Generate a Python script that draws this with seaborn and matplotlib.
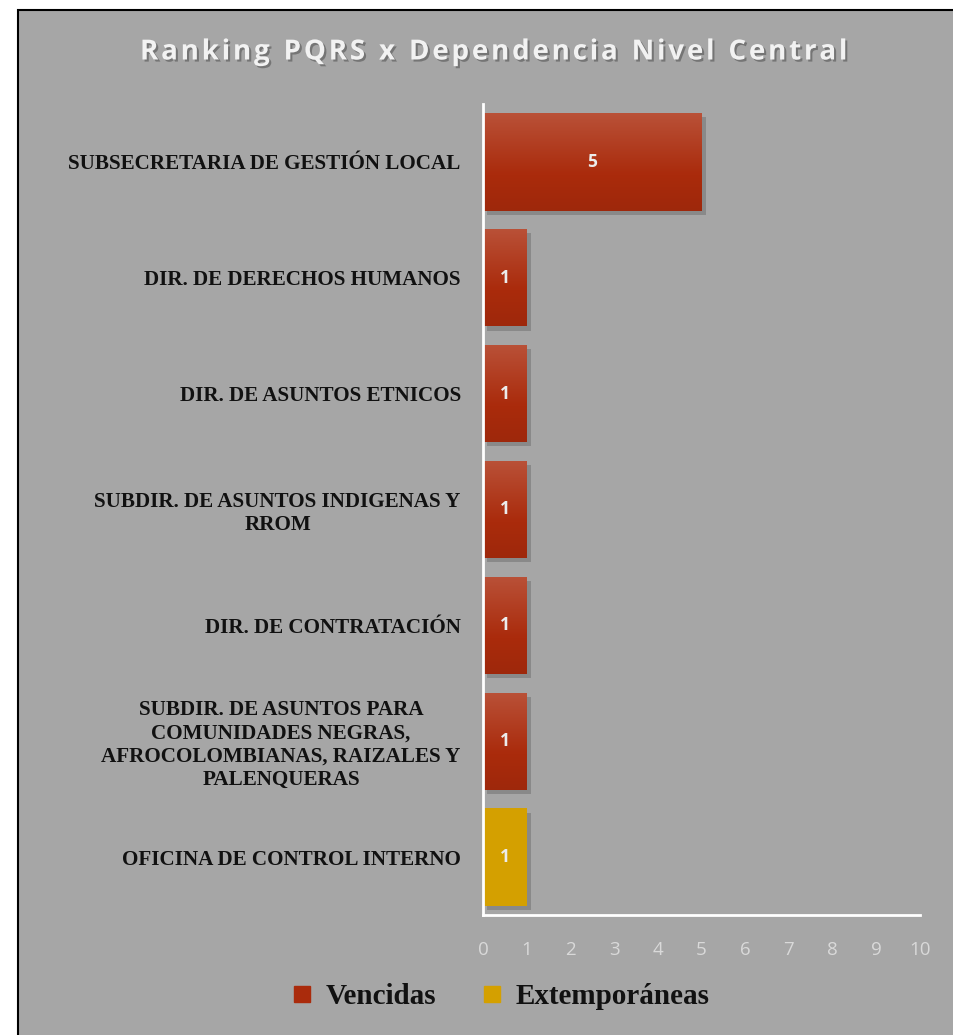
import matplotlib
matplotlib.use("Agg")
import matplotlib.pyplot as plt
import matplotlib.patheffects as pe
from matplotlib.patches import Rectangle
from matplotlib.lines import Line2D
from matplotlib.colors import to_rgb, to_hex
import numpy as np
import seaborn as sns
import pandas as pd

categories = [
    "SUBSECRETARIA DE GESTIÓN LOCAL",
    "DIR. DE DERECHOS HUMANOS",
    "DIR. DE ASUNTOS ETNICOS",
    "SUBDIR. DE ASUNTOS INDIGENAS Y\nRROM",
    "DIR. DE CONTRATACIÓN",
    "SUBDIR. DE ASUNTOS PARA\nCOMUNIDADES NEGRAS,\nAFROCOLOMBIANAS, RAIZALES Y\nPALENQUERAS",
    "OFICINA DE CONTROL INTERNO",
]
values = [5, 1, 1, 1, 1, 1, 1]
series = ["Vencidas", "Vencidas", "Vencidas", "Vencidas", "Vencidas", "Vencidas", "Extemporáneas"]
series_order = ["Vencidas", "Extemporáneas"]
colors = {"Vencidas": "#aa2b0c", "Extemporáneas": "#d4a000"}
xticks = list(range(0, 11))

df = pd.DataFrame({"cat": categories, "val": values, "serie": series})

sns.set_theme(style="white")
plt.rcParams["font.family"] = ["Liberation Serif", "DejaVu Serif"]

fig = plt.figure(figsize=(9.54, 10.35), dpi=100, facecolor="white")
bg = Rectangle((18 / 954, -0.01), 1.0, 1 - 10 / 1035 + 0.01, transform=fig.transFigure,
               facecolor="#a6a6a6", edgecolor="black", linewidth=1.5, zorder=-10)
fig.patches.append(bg)

ax = fig.add_axes([483 / 954, 1 - 915 / 1035, (920 - 483) / 954, (915 - 104) / 1035])
ax.set_facecolor("none")
ax.set_zorder(5)

sns.barplot(data=df, y="cat", x="val", hue="serie", hue_order=series_order,
            palette=colors, dodge=False, width=0.84, orient="h", ax=ax,
            legend=False, saturation=1, linewidth=0, edgecolor="none")

ax.set_xlim(0, 10)
ylim = ax.get_ylim()
red = np.array(to_rgb(colors["Vencidas"]))
for bar in list(ax.patches):
    w = bar.get_width()
    if w <= 0:
        continue
    bar.set_linewidth(0)
    bar.set_path_effects([pe.SimplePatchShadow(offset=(3, -3), alpha=0.22, shadow_rgbFace="#222222"),
                          pe.Normal()])
    base = np.array(to_rgb(bar.get_facecolor()))
    y0, h = bar.get_y(), bar.get_height()
    if np.allclose(base, red, atol=0.02):
        # vertical gradient: lighter at top, deeper at bottom
        top = base + (1 - base) * 0.18
        bot = base * 0.93
        t = np.clip(np.linspace(0, 1, 64)[:, None] * 1.6, 0, 1)
        grad = top[None, :] * (1 - t) + base[None, :] * t
        s = np.linspace(0, 1, 24)[:, None]
        grad[40:] = base[None, :] * (1 - s) + bot[None, :] * s
        im = ax.imshow(grad[:, None, :], extent=(0, w, y0 + h, y0), aspect="auto",
                       origin="upper", zorder=bar.get_zorder() + 0.1, interpolation="bilinear")
        im.set_clip_path(bar)
    ax.text(w / 2, y0 + h / 2, f"{int(w)}",
            ha="center", va="center", color="#ececec", fontsize=12.5,
            fontweight="bold", family=["Open Sans", "DejaVu Sans"], zorder=10)
ax.set_ylim(ylim)
ax.set_xlim(0, 10)

ax.set_xticks(xticks)
ax.set_xticklabels([str(t) for t in xticks], color="#d9d9d9", fontsize=13.5,
                   family=["Open Sans", "DejaVu Sans"])
ax.tick_params(axis="x", length=0, pad=19)
ax.tick_params(axis="y", length=0, pad=16)
for lab in ax.get_yticklabels():
    lab.set_fontweight("bold")
    lab.set_fontsize(15.2)
    lab.set_color("#111111")
    lab.set_multialignment("center")
    lab.set_linespacing(1.22)
ax.set_xlabel("")
ax.set_ylabel("")
for s in ["top", "right"]:
    ax.spines[s].set_visible(False)
for s in ["left", "bottom"]:
    ax.spines[s].set_color("white")
    ax.spines[s].set_linewidth(2)
    ax.spines[s].set_zorder(20)

title_text = "Ranking PQRS x Dependencia Nivel Central"
spaced = "\u2002".join("\u200a".join(word) for word in title_text.split(" "))
title = fig.text(493 / 954, 1 - 52 / 1035, spaced,
                 ha="center", va="center", color="#f2f2f2", fontsize=20, fontweight="bold",
                 family=["Open Sans", "DejaVu Sans"])
title.set_path_effects([pe.withSimplePatchShadow(offset=(1.5, -1.5), shadow_rgbFace="#555555", alpha=0.6)])

handles = [Line2D([0], [0], marker="s", linestyle="none", markersize=11,
                  markerfacecolor=colors[s], markeredgecolor=colors[s]) for s in series_order]
leg = fig.legend(handles, series_order, loc="center", bbox_to_anchor=(497 / 954, 1 - 997 / 1035),
                 ncol=2, frameon=False, handletextpad=0.2, columnspacing=1.3, handlelength=1.2,
                 prop={"family": ["Liberation Serif"], "weight": "bold", "size": 21})
for t in leg.get_texts():
    t.set_color("#111111")

fig.savefig("out.png", dpi=100, facecolor="white")
